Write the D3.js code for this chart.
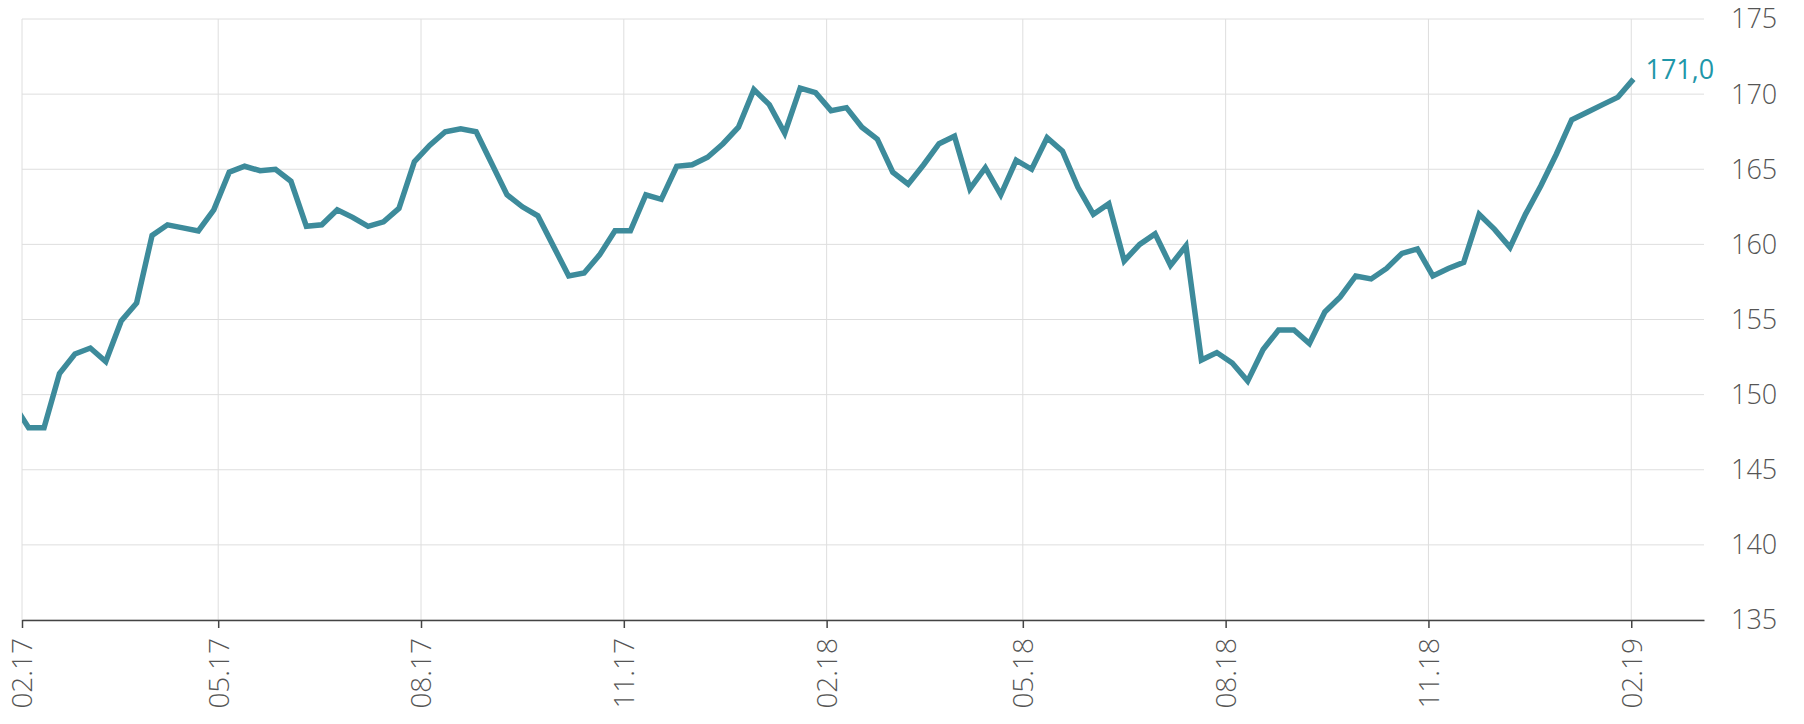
<!DOCTYPE html>
<html>
<head>
	<meta charset="UTF-8">
	<title>index</title>
	<script src="https://cdn.jsdelivr.net/npm/d3@7"></script>
	<style>
		body { margin: 0; background: #fff; }
		svg { display: block; font-family: "Open Sans", sans-serif; }
		.grid line { stroke: #dedede; stroke-width: 1; }
		.ylab { fill: #555; font-size: 27px; font-weight: 300; }
		.xlab { fill: #555; font-size: 28px; font-weight: 300; }
	</style>
</head>
<body>
<script>
	// weekly values, saturdays from 28.01.2017 to 02.02.2019
	var weeks = d3.timeSaturday.range(new Date(2017, 0, 28), new Date(2019, 1, 3));
	var values = [
		149.4, 147.8, 147.8, 151.4, 152.7, 153.1, 152.2, 154.9, 156.1, 160.6,
		161.3, 161.1, 160.9, 162.3, 164.8, 165.2, 164.9, 165.0, 164.2, 161.2,
		161.3, 162.3, 161.8, 161.2, 161.5, 162.4, 165.5, 166.6, 167.5, 167.7,
		167.5, 165.4, 163.3, 162.5, 161.9, 159.9, 157.9, 158.1, 159.3, 160.9,
		160.9, 163.3, 163.0, 165.2, 165.3, 165.8, 166.7, 167.8, 170.3, 169.3,
		167.4, 170.4, 170.1, 168.9, 169.1, 167.8, 167.0, 164.8, 164.0, 165.3,
		166.7, 167.2, 163.7, 165.1, 163.3, 165.6, 165.0, 167.1, 166.2, 163.8,
		162.0, 162.7, 158.9, 160.0, 160.7, 158.6, 159.9, 152.3, 152.8, 152.1,
		150.9, 153.0, 154.3, 154.3, 153.4, 155.5, 156.5, 157.9, 157.7, 158.4,
		159.4, 159.7, 157.9, 158.4, 158.8, 162.0, 161.0, 159.8, 162.0, 163.9,
		166.0, 168.3, 168.8, 169.3, 169.8, 171.0
	];
	var xTicks = ["2017-02-01", "2017-05-01", "2017-08-01", "2017-11-01", "2018-02-01",
		"2018-05-01", "2018-08-01", "2018-11-01", "2019-02-01"];
	var yTicks = [135, 140, 145, 150, 155, 160, 165, 170, 175];

	var W = 1804, H = 724;
	var mLeft = 22, mRight = 1704, mTop = 19, mBottom = 620;

	var parse = d3.timeParse("%Y-%m-%d");
	var fmt = d3.timeFormat("%m.%y");
	var tickDates = xTicks.map(parse);

	var x = d3.scaleTime()
		.domain([parse("2017-02-01"), parse("2019-03-06")])
		.range([mLeft, mRight]);
	var y = d3.scaleLinear().domain([135, 175]).range([mBottom, mTop]);

	var svg = d3.select("body").append("svg").attr("width", W).attr("height", H);

	// horizontal grid
	svg.append("g").attr("class", "grid")
		.selectAll("line").data(yTicks).enter().append("line")
		.attr("x1", mLeft).attr("x2", mRight)
		.attr("y1", function(d) { return y(d); })
		.attr("y2", function(d) { return y(d); });

	// vertical grid
	svg.append("g").attr("class", "grid")
		.selectAll("line").data(tickDates).enter().append("line")
		.attr("x1", function(d) { return x(d); })
		.attr("x2", function(d) { return x(d); })
		.attr("y1", mTop).attr("y2", mBottom);

	// y labels on the right
	svg.append("g").selectAll("text").data(yTicks).enter().append("text")
		.attr("class", "ylab")
		.attr("x", 1731)
		.attr("y", function(d) { return y(d); })
		.attr("dy", "0.35em")
		.text(function(d) { return d; });

	// x axis
	var xAxis = d3.axisBottom(x).tickValues(tickDates).tickSize(8).tickSizeOuter(0).tickFormat(fmt);
	var gx = svg.append("g").attr("transform", "translate(0," + mBottom + ")").call(xAxis);
	gx.attr("font-size", null).attr("font-family", null);
	gx.select(".domain").attr("stroke", "#444").attr("stroke-width", 1.5);
	gx.selectAll(".tick line").attr("stroke", "#444").attr("stroke-width", 1.5);
	gx.selectAll(".tick text")
		.attr("class", "xlab")
		.attr("fill", null)
		.attr("transform", "rotate(-90)")
		.attr("x", -18).attr("y", 0).attr("dy", "0.35em")
		.attr("text-anchor", "end");

	// clip the line to the plot area
	svg.append("clipPath").attr("id", "plot")
		.append("rect").attr("x", mLeft).attr("y", 0)
		.attr("width", mRight - mLeft).attr("height", mBottom);

	var line = d3.line()
		.x(function(d, i) { return x(weeks[i]); })
		.y(function(d) { return y(d); });

	svg.append("path")
		.datum(values)
		.attr("clip-path", "url(#plot)")
		.attr("fill", "none")
		.attr("stroke", "#3d8b9b")
		.attr("stroke-width", 5.5)
		.attr("d", line);

	// last value label
	var last = values.length - 1;
	svg.append("text")
		.attr("x", x(weeks[last]) + 12)
		.attr("y", y(values[last]) - 10)
		.attr("dy", "0.35em")
		.attr("fill", "#1f97a9")
		.attr("font-size", 27)
		.attr("font-weight", 500)
		.text(d3.format(".1f")(values[last]).replace(".", ","));
</script>
</body>
</html>
